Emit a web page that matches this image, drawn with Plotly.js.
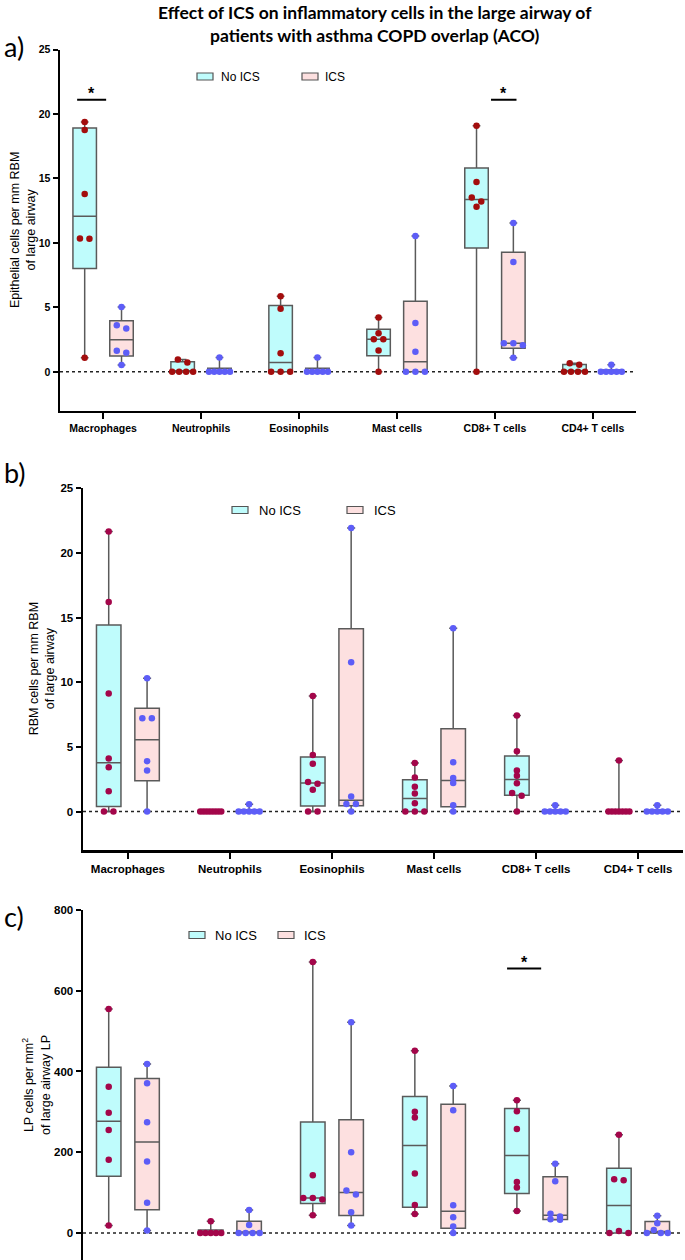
<!DOCTYPE html>
<html>
<head>
<meta charset="utf-8">
<script src="https://cdn.plot.ly/plotly-3.0.1.min.js"></script>
<style>
  html, body { margin: 0; padding: 0; background: #fff; }
  #plot { width: 685px; height: 1260px; }
</style>
</head>
<body>
<div id="plot"></div>
<script>
// cell types on the x axis
var cats = ["Macrophages", "Neutrophils", "Eosinophils", "Mast cells", "CD8+ T cells", "CD4+ T cells"];

// a) epithelial cells per mm RBM
var aNoIcs = [[19.37, 18.75, 13.79, 10.35, 10.32, 1.09], [0.96, 0.72, 0, 0, 0, 0], [5.87, 4.89, 1.45, 0, 0, 0],
              [4.22, 3.0, 2.53, 2.53, 1.66, 0], [19.09, 14.72, 13.53, 13.22, 12.8, 0], [0.67, 0.54, 0, 0, 0, 0]];
var aIcs = [[5.02, 3.62, 3.36, 1.63, 1.47, 0.52], [1.11, 0, 0, 0, 0, 0], [1.11, 0, 0, 0, 0, 0],
            [10.53, 3.78, 1.55, 0, 0, 0], [11.54, 8.51, 2.22, 2.22, 2.07, 1.09], [0.54, 0, 0, 0, 0, 0]];

// b) RBM cells per mm RBM
var bNoIcs = [[21.65, 16.2, 9.12, 4.1, 3.43, 1.57, 0, 0], [0, 0, 0, 0, 0, 0, 0, 0], [8.94, 4.38, 3.69, 2.29, 2.14, 1.68, 0, 0],
              [3.76, 2.63, 1.91, 1.39, 0.64, 0, 0, 0], [7.42, 4.66, 3.17, 2.76, 2.19, 1.44, 1.21, 0], [3.94, 0, 0, 0, 0, 0, 0, 0]];
var bIcs = [[10.31, 7.22, 7.22, 3.89, 3.17, 0], [0.57, 0, 0, 0, 0, 0], [21.93, 11.55, 1.16, 0.59, 0.59, 0],
            [14.18, 3.81, 2.6, 2.2, 0.49, 0], [0.49, 0, 0, 0, 0, 0], [0.49, 0, 0, 0, 0, 0]];

// c) LP cells per mm2
var cNoIcs = [[554.8, 362.4, 298, 255, 181.6, 18.2], [28.9, 0, 0, 0, 0, 0], [671.2, 142.8, 86.7, 86.7, 82.6, 43.8],
              [451.6, 300.5, 285.7, 147, 69.3, 47.1], [328.6, 301.3, 257.6, 126.3, 112.3, 54.5], [243.5, 132.9, 130.4, 5, 0, 0]];
var cIcs = [[418.6, 370.7, 274.1, 176.7, 75.1, 5.8], [57, 19.8, 0, 0, 0, 0], [521.8, 199.8, 104.9, 95, 51.2, 18.2],
            [364.1, 303.8, 68.5, 38.8, 15.7, 0], [171.7, 128, 47.5, 40.5, 34, 32.5], [42.9, 23.9, 7.4, 0, 0, 0]];

var W = 685, H = 1260;
var XR = [-0.44, 5.44];
var panels = [
  { sfx: "",  xd: [60, 636], yd: [49.5, 410.5], yr: [-3, 25], dt: 5,   noIcs: aNoIcs, ics: aIcs, red: "#a30d0d", tick: 10.5, ytitle: "Epithelial cells per mm RBM<br>of large airway", tx: 23, showX: true },
  { sfx: "2", xd: [83, 683], yd: [488.3, 850.3], yr: [-3, 25], dt: 5, noIcs: bNoIcs, ics: bIcs, red: "#a3064a", tick: 11.5, ytitle: "RBM cells per mm RBM<br>of large airway", tx: 42, showX: true },
  { sfx: "3", xd: [83, 683], yd: [910, 1260], yr: [-67, 800], dt: 200, noIcs: cNoIcs, ics: cIcs, red: "#a3064a", tick: 11.5, ytitle: "LP cells per mm<sup>2</sup><br>of large airway LP", tx: 36, showX: false }
];

var FONT = "Liberation Sans, Arial, sans-serif";
var BOXLINE = "#5a5a5a";
var BLUE = "#5d5df7";
var OFF = 0.188;

// GraphPad style quartile (n+1 method)
function quant(sorted, p) {
  var n = sorted.length, pos = p * (n + 1);
  if (pos <= 1) return sorted[0];
  if (pos >= n) return sorted[n - 1];
  var lo = Math.floor(pos), f = pos - lo;
  return sorted[lo - 1] + f * (sorted[lo] - sorted[lo - 1]);
}

// spread equal-ish points side by side, like a column scatter
function swarm(vals, pxY) {
  var v = vals.slice().sort(function (a, b) { return b - a; });
  var out = [], i = 0;
  while (i < v.length) {
    var row = [v[i]], j = i + 1;
    while (j < v.length && (v[i] - v[j]) * pxY < 5) { row.push(v[j]); j++; }
    var k = row.length, step = k > 1 ? Math.min(9.5, 21 / (k - 1)) : 0;
    var pos = [];
    for (var m = 0; m < k; m++) pos.push((m - (k - 1) / 2) * step);
    pos.sort(function (a, b) { return Math.abs(a) - Math.abs(b) || a - b; });
    row.forEach(function (val, m) { out.push({ y: val, dx: pos[m] }); });
    i = j;
  }
  return out;
}

var traces = [], layout = {
  width: W, height: H,
  margin: { l: 0, r: 0, t: 0, b: 0 },
  paper_bgcolor: "#fff", plot_bgcolor: "rgba(0,0,0,0)",
  showlegend: false,
  font: { family: FONT, color: "#000" },
  shapes: [], annotations: []
};

panels.forEach(function (p) {
  var xa = "x" + p.sfx, ya = "y" + p.sfx;
  var pxX = (p.xd[1] - p.xd[0]) / (XR[1] - XR[0]);
  var pxY = (p.yd[1] - p.yd[0]) / (p.yr[1] - p.yr[0]);

  [[p.noIcs, -OFF, "#bffcfc", p.red], [p.ics, OFF, "#fde0e0", BLUE]].forEach(function (g) {
    var data = g[0], off = g[1];
    var q1 = [], med = [], q3 = [], lo = [], hi = [], xs = [];
    var px = [], py = [];
    data.forEach(function (vals, ci) {
      var s = vals.slice().sort(function (a, b) { return a - b; });
      xs.push(ci + off);
      q1.push(quant(s, 0.25)); med.push(quant(s, 0.5)); q3.push(quant(s, 0.75));
      lo.push(s[0]); hi.push(s[s.length - 1]);
      swarm(vals, pxY).forEach(function (pt) {
        px.push(ci + off + pt.dx / pxX);
        py.push(pt.y);
      });
    });
    traces.push({
      type: "box", xaxis: xa, yaxis: ya, x: xs,
      q1: q1, median: med, q3: q3, lowerfence: lo, upperfence: hi,
      width: 0.24, whiskerwidth: 0.33, boxpoints: false,
      fillcolor: g[2], line: { color: BOXLINE, width: 1.5 },
      hoverinfo: "skip"
    });
    traces.push({
      type: "scatter", mode: "markers", xaxis: xa, yaxis: ya,
      x: px, y: py, cliponaxis: false,
      marker: { size: 6.5, color: g[3] },
      hoverinfo: "skip"
    });
  });

  layout["xaxis" + p.sfx] = {
    domain: [p.xd[0] / W, p.xd[1] / W], range: XR, anchor: ya,
    tickvals: [0, 1, 2, 3, 4, 5], ticktext: cats,
    showline: p.showX, linewidth: 2.5, linecolor: "#000",
    ticks: p.showX ? "outside" : "", ticklen: 6, tickwidth: 2, tickcolor: "#000",
    showticklabels: p.showX,
    tickfont: { family: FONT, size: p.tick, color: "#000", weight: "bold" },
    showgrid: false, zeroline: false, fixedrange: true
  };
  var tv = [];
  for (var t = 0; t <= p.yr[1]; t += p.dt) tv.push(t);
  layout["yaxis" + p.sfx] = {
    domain: [1 - p.yd[1] / H, 1 - p.yd[0] / H], range: p.yr, anchor: xa,
    tickvals: tv, showline: true, linewidth: 2.5, linecolor: "#000",
    ticks: "outside", ticklen: 5, tickwidth: 2, tickcolor: "#000",
    tickfont: { family: FONT, size: p.tick, color: "#000", weight: "bold" },
    showgrid: false, zeroline: false, fixedrange: true
  };

  // dotted zero line
  layout.shapes.push({
    type: "line", xref: xa + " domain", yref: ya, x0: 0, x1: 1, y0: 0, y1: 0,
    line: { color: "#222", width: 1.5, dash: "dot" }, layer: "below"
  });

  // y title
  layout.annotations.push({
    xref: "paper", yref: "paper", x: p.tx / W, y: 1 - ((p.yd[0] + p.yd[1]) / 2) / H,
    text: p.ytitle, textangle: -90, showarrow: false,
    xanchor: "center", yanchor: "middle",
    font: { family: FONT, size: 12.5, color: "#000" }
  });
});

// significance bars
var sig = [
  { xa: "x", ya: "y", x0: -0.265, x1: 0.031, y: 21.1 },
  { xa: "x", ya: "y", x0: 3.96, x1: 4.22, y: 21.1 },
  { xa: "x3", ya: "y3", x0: 3.716, x1: 4.05, y: 655 }
];
sig.forEach(function (s) {
  layout.shapes.push({ type: "line", xref: s.xa, yref: s.ya, x0: s.x0, x1: s.x1, y0: s.y, y1: s.y,
    line: { color: "#000", width: 2 } });
  layout.annotations.push({ xref: s.xa, yref: s.ya, x: (s.x0 + s.x1) / 2, y: s.y, text: "*",
    showarrow: false, yanchor: "bottom", yshift: -4,
    font: { family: FONT, size: 16, color: "#000", weight: "bold" } });
});

// legends
var legs = [
  { y: 76.5, boxes: [[197, "No ICS", 219, "#bffcfc"], [302, "ICS", 323, "#fde0e0"]], fs: 12 },
  { y: 510, boxes: [[232, "No ICS", 257, "#bffcfc"], [347, "ICS", 372, "#fde0e0"]], fs: 13 },
  { y: 935, boxes: [[189, "No ICS", 213, "#bffcfc"], [278, "ICS", 302, "#fde0e0"]], fs: 13 }
];
legs.forEach(function (l) {
  l.boxes.forEach(function (b) {
    layout.shapes.push({ type: "rect", xref: "paper", yref: "paper",
      x0: b[0] / W, x1: (b[0] + 16) / W, y0: 1 - (l.y + 3.5) / H, y1: 1 - (l.y - 3.5) / H,
      fillcolor: b[3], line: { color: "#555", width: 1.2 } });
    layout.annotations.push({ xref: "paper", yref: "paper", x: b[2] / W, y: 1 - l.y / H,
      text: b[1], showarrow: false, xanchor: "left", yanchor: "middle",
      font: { family: FONT, size: l.fs, color: "#000" } });
  });
});

// main title and panel letters
layout.annotations.push({
  xref: "paper", yref: "paper", x: 375 / W, y: 1 - 0 / H, xanchor: "center", yanchor: "top",
  text: "Effect of ICS on inflammatory cells in the large airway of<br>patients with asthma COPD overlap (ACO)",
  showarrow: false, font: { family: "Lato, sans-serif", size: 17.5, color: "#000", weight: "bold" }
});
[["a)", 47], ["b)", 472], ["c)", 916]].forEach(function (l) {
  layout.annotations.push({ xref: "paper", yref: "paper", x: 2 / W, y: 1 - l[1] / H,
    xanchor: "left", yanchor: "middle", text: l[0], showarrow: false,
    font: { family: "Lato, sans-serif", size: 27, color: "#000" } });
});

Plotly.newPlot("plot", traces, layout, { staticPlot: true });
</script>
</body>
</html>
